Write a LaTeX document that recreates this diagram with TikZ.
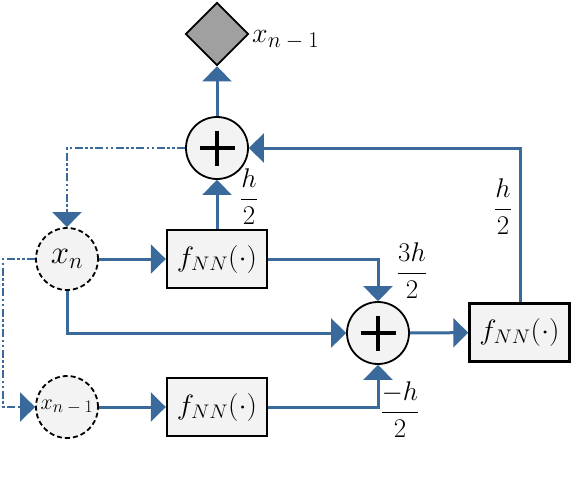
\RequirePackage{fix-cm}
\documentclass[tikz,border=0pt]{standalone}
\usepackage{amsmath}
\usepackage{graphicx}
\usetikzlibrary{arrows.meta,shapes.geometric}
\definecolor{lineblue}{HTML}{3A6A9C}
\definecolor{boxfill}{HTML}{F3F3F3}
\definecolor{diafill}{HTML}{A0A0A0}
\tikzset{
  arr/.style={draw=lineblue,line width=3pt,-{Triangle[width=29pt,length=15pt]}},
  dd/.style={draw=lineblue,line width=2.3pt,dash pattern=on 8pt off 2.5pt on 2.5pt off 2.5pt on 2.5pt off 2.5pt,-{Triangle[width=29pt,length=15pt]}},
  fbox/.style={draw=black,line width=2.4pt,fill=boxfill,minimum width=100pt,minimum height=58pt,inner sep=0pt,font=\fontsize{28}{32}\selectfont},
  plusnode/.style={circle,draw=black,line width=1.8pt,fill=boxfill,minimum size=62pt,inner sep=0pt},
  varnode/.style={circle,draw=black,line width=1.8pt,dashed,dash pattern=on 5pt off 3pt,fill=boxfill,minimum size=62pt,inner sep=0pt},
  lab/.style={inner sep=0pt,font=\fontsize{27}{30}\selectfont}
}
\newcommand{\fnn}{\scalebox{1.05}[1]{$f_{NN}(\cdot)$}}
\newcommand{\xnm}{$x_{\scalebox{0.8}{$\textstyle n-1$}}$}
\newcommand{\plussign}[1]{\draw[black,line width=4pt] ([xshift=-17.5pt]#1.center) -- ([xshift=17.5pt]#1.center) ([yshift=-17.5pt]#1.center) -- ([yshift=17.5pt]#1.center);}
\begin{document}
\begin{tikzpicture}[x=1pt,y=-1pt]
\useasboundingbox[fill=white] (0,0) rectangle (572,476);
% nodes
\node[diamond,draw=black,line width=1.8pt,fill=diafill,minimum width=63pt,minimum height=63pt,inner sep=0pt] (out) at (217,34) {};
\node[inner sep=0pt,font=\fontsize{28}{32}\selectfont,anchor=base west] (outlab) at (252,43) {\xnm};
\node[plusnode] (p1) at (217,148) {};
\node[fbox] (b1) at (217,259) {\fnn};
\node[varnode] (xn) at (67,259) {\fontsize{33}{36}\selectfont$x_n$};
\node[plusnode] (p2) at (378,333) {};
\node[fbox] (b3) at (519.5,332.5) {\fnn};
\node[varnode] (xn1) at (67,407) {\fontsize{22}{26}\selectfont\xnm};
\node[fbox] (b2) at (217,407) {\fnn};
\coordinate (c1) at (3,259);
% labels
\node[lab] (l1) at (249,197) {$\dfrac{h}{2}$};
\node[lab] (l2) at (503,207) {$\dfrac{h}{2}$};
\node[lab] (l3) at (412,271) {$\dfrac{3h}{2}$};
\node[lab] (l4) at (400,410) {$\dfrac{-h}{2}$};
% connectors
\draw[arr] (p1) -- (out);
\draw[arr] (b1) -- (p1);
\draw[arr] (b3.north -| 520,0) |- (p1.east);
\draw[dd] (p1.west) -| (xn.north);
\draw[arr] (xn) -- (b1);
\draw[arr] (b1.east) -| (p2.north);
\draw[arr] (xn.south) |- (p2.west);
\draw[arr] (p2) -- (b3);
\draw[arr] (b2.east) -| (p2.south);
\draw[arr] (xn1) -- (b2);
\draw[dd] (xn.west) -- (c1) |- (xn1.west);
\plussign{p1}
\plussign{p2}
\end{tikzpicture}
\end{document}
